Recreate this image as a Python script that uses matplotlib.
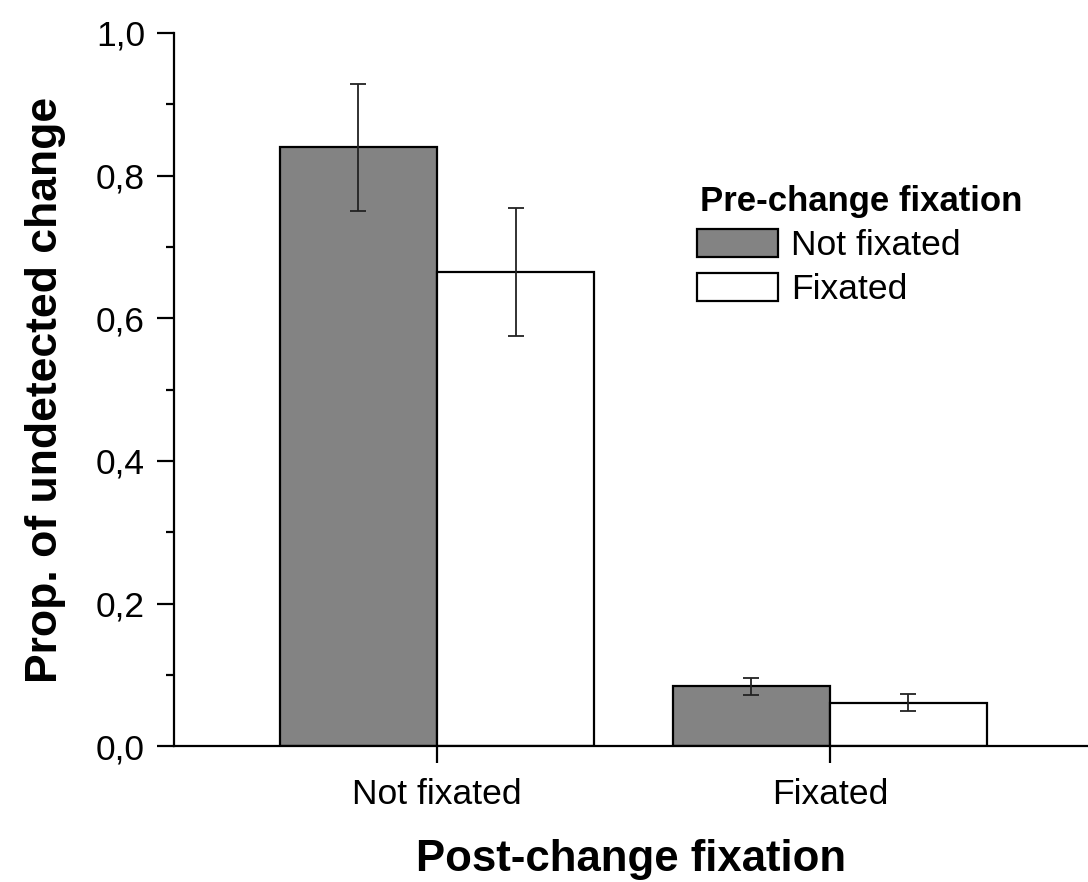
import numpy as np
import matplotlib
matplotlib.use("Agg")
import matplotlib.pyplot as plt
from matplotlib.ticker import MultipleLocator, FuncFormatter

plt.rcParams['font.family'] = ['Liberation Sans', 'DejaVu Sans']

groups = ['Not fixated', 'Fixated']
series = ['Not fixated', 'Fixated']
means_notfix = [0.840, 0.084]
means_fix = [0.665, 0.061]
err_notfix = [0.089, 0.012]
err_fix = [0.090, 0.012]

fig = plt.figure(figsize=(10.88, 8.82), dpi=100)
ax = fig.add_axes([0.160, 0.154, 0.840, 0.8086])

x = np.arange(len(groups))
w = 0.40
ekw = dict(ecolor='#222222', elinewidth=1.3, capsize=6, capthick=1.3)
ax.bar(x - w / 2, means_notfix, w, yerr=err_notfix, color='#838383',
       edgecolor='black', linewidth=1.6, label=series[0], error_kw=ekw, zorder=2)
ax.bar(x + w / 2, means_fix, w, yerr=err_fix, color='white',
       edgecolor='black', linewidth=1.6, label=series[1], error_kw=ekw, zorder=2)

ax.set_xlim(-0.669, 1.657)
ax.set_ylim(0, 1.0)
ax.set_xticks(x)
ax.set_xticklabels(groups)
ax.yaxis.set_major_locator(MultipleLocator(0.2))
ax.yaxis.set_minor_locator(MultipleLocator(0.1))
ax.yaxis.set_major_formatter(FuncFormatter(lambda v, p: f"{v:.1f}".replace('.', ',')))

for s in ['top', 'right']:
    ax.spines[s].set_visible(False)
for s in ['left', 'bottom']:
    ax.spines[s].set_linewidth(1.6)

ax.tick_params(axis='both', which='major', direction='out', length=12, width=1.6,
               labelsize=25.5)
ax.tick_params(axis='y', which='major', pad=9)
ax.tick_params(axis='x', which='major', pad=11)
ax.tick_params(axis='y', which='minor', direction='out', length=6, width=1.6)

ax.set_ylabel('Prop. of undetected change', fontsize=32, fontweight='bold')
ax.yaxis.set_label_coords(-0.118, 0.5)
ax.set_xlabel('Post-change fixation', fontsize=31.5, fontweight='bold')
ax.xaxis.set_label_coords(0.5, -0.130)

leg = ax.legend(title='Pre-change fixation', loc='upper left',
                bbox_to_anchor=(0.572, 0.787), frameon=False, fontsize=25.5,
                title_fontproperties={'weight': 'bold', 'size': 25},
                alignment='left',
                handlelength=2.3, handleheight=0.85, handletextpad=0.35,
                labelspacing=0.3, borderpad=0, borderaxespad=0)
leg.get_title().set_position((3, 0))

fig.savefig('out.png', dpi=100)
